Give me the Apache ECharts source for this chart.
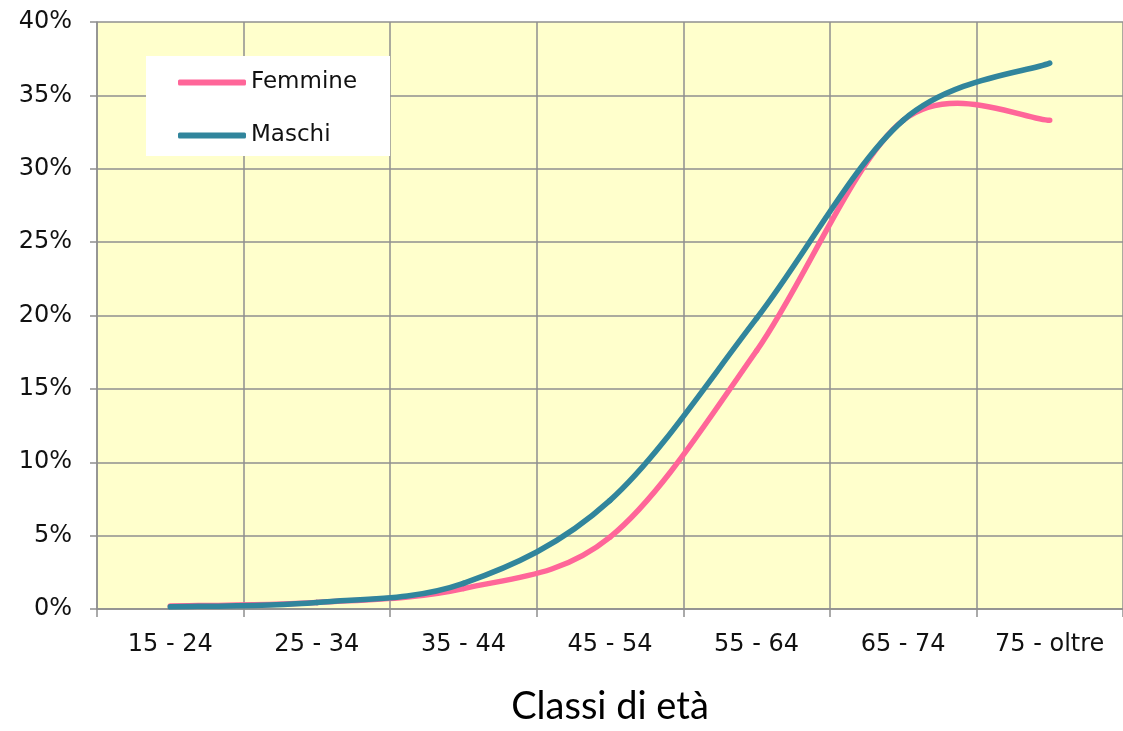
<!DOCTYPE html>
<html>
<head>
<meta charset="utf-8">
<script src="https://cdn.jsdelivr.net/npm/echarts@6/dist/echarts.min.js"></script>
<style>
  html, body { margin: 0; padding: 0; background: #fff; }
  #chart { width: 1123px; height: 731px; }
</style>
</head>
<body>
<div id="chart"></div>
<script>
const categories = ['15 - 24', '25 - 34', '35 - 44', '45 - 54', '55 - 64', '65 - 74', '75 - oltre']
const femmine = [0.2, 0.45, 1.4, 4.9, 17.6, 33.3, 33.3]
const maschi = [0.15, 0.45, 1.75, 7.4, 19.8, 33.3, 37.2]
const yTicks = [0, 5, 10, 15, 20, 25, 30, 35, 40]

const gridColor = '#8f8f8f'
const labelFont = { fontFamily: 'DejaVu Sans', fontSize: 24, color: '#111' }

// smoothed line like the spreadsheet one (catmull-rom -> bezier, 1/6 tangents)
function smoothLine(values, color) {
  return function (params, api) {
    if (params.dataIndex !== 0) return
    const pts = values.map((v, i) => api.coord([i, v]))
    const children = []
    for (let i = 0; i < pts.length - 1; i++) {
      const p0 = pts[i - 1] || pts[i]
      const p1 = pts[i]
      const p2 = pts[i + 1]
      const p3 = pts[i + 2] || pts[i + 1]
      children.push({
        type: 'bezierCurve',
        shape: {
          x1: p1[0], y1: p1[1],
          cpx1: p1[0] + (p2[0] - p0[0]) / 6, cpy1: p1[1] + (p2[1] - p0[1]) / 6,
          cpx2: p2[0] - (p3[0] - p1[0]) / 6, cpy2: p2[1] - (p3[1] - p1[1]) / 6,
          x2: p2[0], y2: p2[1]
        },
        style: { stroke: color, lineWidth: 5.5, fill: 'none', lineCap: 'round' }
      })
    }
    return { type: 'group', children }
  }
}

const chart = echarts.init(document.getElementById('chart'))

chart.setOption({
  animation: false,
  grid: {
    left: 97, top: 22, width: 1037, height: 592,
    show: true, backgroundColor: '#ffffcc', borderWidth: 0
  },
  legend: {
    left: 146, top: 56,
    orient: 'vertical',
    backgroundColor: '#fff',
    padding: [15, 33, 9, 32],
    itemGap: 30,
    itemWidth: 68,
    itemHeight: 6,
    icon: 'roundRect',
    textStyle: { ...labelFont, fontSize: 23 },
    data: ['Femmine', 'Maschi']
  },
  xAxis: {
    type: 'category',
    data: categories,
    boundaryGap: true,
    name: 'Classi di età',
    nameLocation: 'middle',
    nameGap: 79,
    nameTextStyle: { fontFamily: 'Lato', fontSize: 38, color: '#000' },
    axisLine: { lineStyle: { color: gridColor, width: 1.5 } },
    axisTick: { show: true, length: 8, lineStyle: { color: gridColor, width: 1.5 } },
    axisLabel: { ...labelFont, margin: 24 },
    splitLine: { show: true, lineStyle: { color: gridColor, width: 1.5 } }
  },
  yAxis: {
    type: 'value',
    min: yTicks[0],
    max: yTicks[yTicks.length - 1],
    interval: 5,
    axisLine: { show: true, lineStyle: { color: gridColor, width: 1.5 } },
    axisTick: { show: true, length: 7, lineStyle: { color: gridColor, width: 1.5 } },
    axisLabel: { ...labelFont, margin: 25, formatter: v => v + '%' },
    splitLine: { show: true, lineStyle: { color: gridColor, width: 1.5 } }
  },
  series: [
    {
      name: 'Femmine',
      type: 'custom',
      data: femmine.map((v, i) => [i, v]),
      encode: { x: 0, y: 1 },
      itemStyle: { color: '#ff6699' },
      renderItem: smoothLine(femmine, '#ff6699')
    },
    {
      name: 'Maschi',
      type: 'custom',
      data: maschi.map((v, i) => [i, v]),
      encode: { x: 0, y: 1 },
      itemStyle: { color: '#31859c' },
      renderItem: smoothLine(maschi, '#31859c')
    }
  ]
})
</script>
</body>
</html>
